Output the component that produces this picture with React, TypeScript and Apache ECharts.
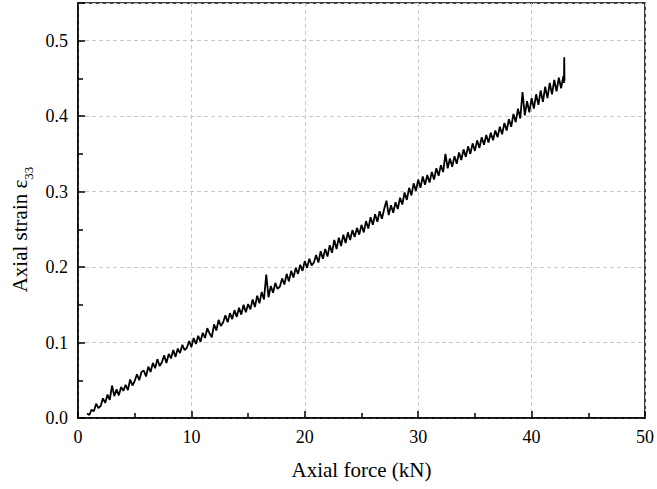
import React, { useEffect, useRef } from "react";
import * as echarts from "echarts";

const forceKN: number[] = [
  0.8,
  1.0, 1.2, 1.4, 1.6, 1.8, 2.0, 2.2, 2.4, 2.6, 2.8,
  3.0, 3.2, 3.4, 3.6, 3.8, 4.0, 4.2, 4.4, 4.6, 4.8,
  5.0, 5.2, 5.4, 5.6, 5.8, 6.0, 6.2, 6.4, 6.6, 6.8,
  7.0, 7.2, 7.4, 7.6, 7.8, 8.0, 8.2, 8.4, 8.6, 8.8,
  9.0, 9.2, 9.4, 9.6, 9.8, 10.0, 10.2, 10.4, 10.6, 10.8,
  11.0, 11.2, 11.4, 11.6, 11.8, 12.0, 12.2, 12.4, 12.6, 12.8,
  13.0, 13.2, 13.4, 13.6, 13.8, 14.0, 14.2, 14.4, 14.6, 14.8,
  15.0, 15.2, 15.4, 15.6, 15.8, 16.0, 16.2, 16.4, 16.6, 16.8,
  17.0, 17.2, 17.4, 17.6, 17.8, 18.0, 18.2, 18.4, 18.6, 18.8,
  19.0, 19.2, 19.4, 19.6, 19.8, 20.0, 20.2, 20.4, 20.6, 20.8,
  21.0, 21.2, 21.4, 21.6, 21.8, 22.0, 22.2, 22.4, 22.6, 22.8,
  23.0, 23.2, 23.4, 23.6, 23.8, 24.0, 24.2, 24.4, 24.6, 24.8,
  25.0, 25.2, 25.4, 25.6, 25.8, 26.0, 26.2, 26.4, 26.6, 26.8,
  27.0, 27.2, 27.4, 27.6, 27.8, 28.0, 28.2, 28.4, 28.6, 28.8,
  29.0, 29.2, 29.4, 29.6, 29.8, 30.0, 30.2, 30.4, 30.6, 30.8,
  31.0, 31.2, 31.4, 31.6, 31.8, 32.0, 32.2, 32.4, 32.6, 32.8,
  33.0, 33.2, 33.4, 33.6, 33.8, 34.0, 34.2, 34.4, 34.6, 34.8,
  35.0, 35.2, 35.4, 35.6, 35.8, 36.0, 36.2, 36.4, 36.6, 36.8,
  37.0, 37.2, 37.4, 37.6, 37.8, 38.0, 38.2, 38.4, 38.6, 38.8,
  39.0, 39.2, 39.4, 39.6, 39.8, 40.0, 40.2, 40.4, 40.6, 40.8,
  41.0, 41.2, 41.4, 41.6, 41.8, 42.0, 42.2, 42.4, 42.6, 42.8,
  42.85, 42.88, 42.9,
];

const axialStrain: number[] = [
  0.006,
  0.004, 0.011, 0.009, 0.019, 0.013, 0.016, 0.026, 0.020, 0.031, 0.024,
  0.043, 0.029, 0.038, 0.030, 0.041, 0.036, 0.044, 0.037, 0.051, 0.043,
  0.049, 0.058, 0.050, 0.061, 0.063, 0.055, 0.068, 0.061, 0.073, 0.066,
  0.078, 0.069, 0.074, 0.083, 0.073, 0.085, 0.079, 0.090, 0.081, 0.092,
  0.086, 0.097, 0.090, 0.093, 0.102, 0.094, 0.106, 0.098, 0.109, 0.101,
  0.113, 0.106, 0.119, 0.112, 0.107, 0.124, 0.116, 0.130, 0.122, 0.127,
  0.136, 0.127, 0.139, 0.131, 0.143, 0.134, 0.146, 0.137, 0.150, 0.140,
  0.151, 0.144, 0.157, 0.147, 0.162, 0.152, 0.167, 0.157, 0.190, 0.160,
  0.175, 0.166, 0.179, 0.171, 0.174, 0.185, 0.177, 0.191, 0.181, 0.195,
  0.186, 0.199, 0.191, 0.203, 0.195, 0.208, 0.199, 0.211, 0.202, 0.206,
  0.216, 0.206, 0.221, 0.211, 0.224, 0.214, 0.229, 0.219, 0.236, 0.224,
  0.239, 0.228, 0.243, 0.232, 0.246, 0.236, 0.249, 0.240, 0.252, 0.243,
  0.256, 0.246, 0.261, 0.251, 0.266, 0.256, 0.270, 0.260, 0.274, 0.264,
  0.277, 0.288, 0.269, 0.282, 0.272, 0.286, 0.277, 0.292, 0.283, 0.299,
  0.289, 0.305, 0.295, 0.311, 0.301, 0.316, 0.305, 0.320, 0.309, 0.322,
  0.312, 0.326, 0.316, 0.331, 0.321, 0.335, 0.326, 0.350, 0.331, 0.344,
  0.333, 0.347, 0.337, 0.352, 0.342, 0.356, 0.346, 0.360, 0.350, 0.364,
  0.354, 0.368, 0.358, 0.372, 0.362, 0.375, 0.365, 0.378, 0.368, 0.381,
  0.372, 0.386, 0.376, 0.391, 0.381, 0.396, 0.386, 0.403, 0.392, 0.410,
  0.397, 0.432, 0.401, 0.420, 0.405, 0.424, 0.410, 0.429, 0.415, 0.434,
  0.419, 0.439, 0.424, 0.444, 0.429, 0.448, 0.433, 0.451, 0.437, 0.453,
  0.444, 0.478, 0.447,
];

const xAxisTitle = "Axial force (kN)";
const yAxisTitleMain = "Axial strain ε";
const yAxisTitleSub = "33";

const FONT = "'Liberation Serif', 'Times New Roman', serif";

export default function App() {
  const ref = useRef<HTMLDivElement>(null);

  useEffect(() => {
    if (!ref.current) return;
    const chart = echarts.init(ref.current, undefined, { renderer: "svg" });
    const data = forceKN.map((f, i) => [f, axialStrain[i]]);
    chart.setOption({
      animation: false,
      backgroundColor: "#ffffff",
      grid: {
        left: 78,
        right: 9,
        top: 3,
        bottom: 71,
        show: true,
        borderColor: "#000",
        borderWidth: 1.5,
        containLabel: false,
      },
      xAxis: {
        type: "value",
        min: 0,
        max: 50,
        interval: 10,
        name: xAxisTitle,
        nameLocation: "middle",
        nameGap: 41,
        nameTextStyle: { fontFamily: FONT, fontSize: 21, color: "#000" },
        axisLine: { show: true, onZero: false, lineStyle: { color: "#000", width: 1.5 } },
        axisTick: { show: true, inside: true, length: 7, lineStyle: { color: "#000", width: 1.5 } },
        minorTick: { show: true, splitNumber: 2, length: 5, lineStyle: { color: "#000", width: 1.5 } },
        axisLabel: {
          fontFamily: FONT,
          fontSize: 18,
          color: "#000",
          margin: 10,
        },
        splitLine: { show: true, lineStyle: { color: "#c8c8c8", type: [4, 3], width: 1 } },
      },
      yAxis: {
        type: "value",
        min: 0,
        max: 0.55,
        interval: 0.1,
        name: `{m|${yAxisTitleMain}}{s|${yAxisTitleSub}}`,
        nameLocation: "middle",
        nameGap: 44,
        nameRotate: 90,
        nameTextStyle: {
          fontFamily: FONT,
          fontSize: 21,
          color: "#000",
          padding: [0, 38, 0, 0],
          rich: {
            m: { fontFamily: FONT, fontSize: 21, color: "#000", lineHeight: 26, verticalAlign: "bottom" },
            s: { fontFamily: FONT, fontSize: 13, color: "#000", lineHeight: 26, verticalAlign: "bottom", padding: [0, 0, -4, 0] },
          },
        },
        axisLine: { show: true, onZero: false, lineStyle: { color: "#000", width: 1.5 } },
        axisTick: { show: true, inside: true, length: 7, lineStyle: { color: "#000", width: 1.5 } },
        minorTick: { show: true, splitNumber: 2, length: 5, lineStyle: { color: "#000", width: 1.5 } },
        axisLabel: {
          fontFamily: FONT,
          fontSize: 18,
          color: "#000",
          margin: 10,
          showMaxLabel: false,
          formatter: (v: number) => (Math.abs(v - 0.55) < 1e-9 ? "" : v.toFixed(1)),
        },
        splitLine: { show: true, lineStyle: { color: "#c8c8c8", type: [4, 3], width: 1 } },
      },
      series: [
        {
          type: "line",
          data,
          showSymbol: false,
          symbol: "none",
          lineStyle: { color: "#000", width: 1.8 },
          itemStyle: { color: "#000" },
        },
      ],
    });
    return () => chart.dispose();
  }, []);

  return <div ref={ref} style={{ width: 657, height: 489, position: "absolute", left: 0, top: 0 }} />;
}
